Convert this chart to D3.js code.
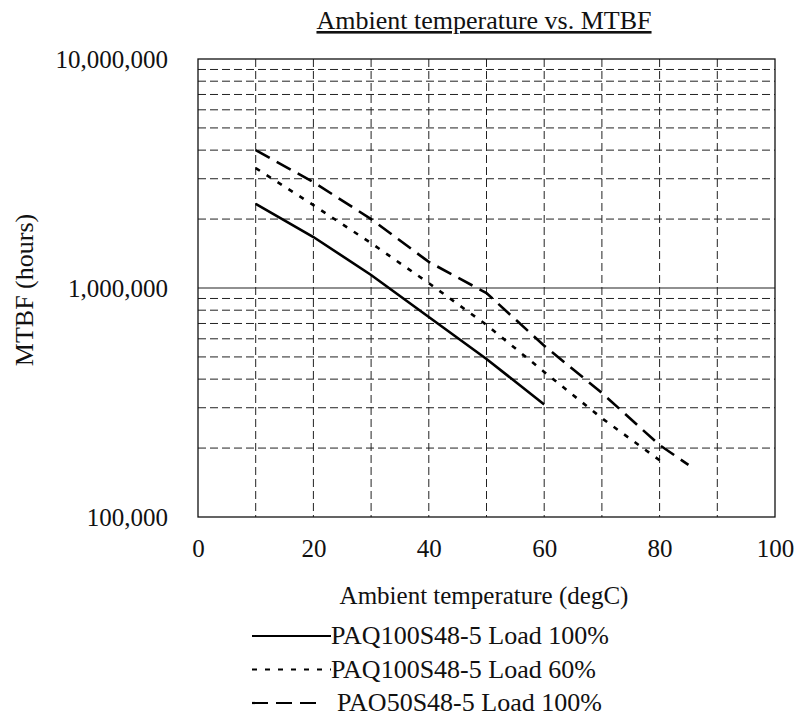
<!DOCTYPE html>
<html>
<head>
<meta charset="utf-8">
<script src="https://cdn.jsdelivr.net/npm/d3@7"></script>
<style>
  body { margin: 0; background: #fff; }
  text { font-family: "Liberation Serif", "Times New Roman", serif; fill: #111; }
</style>
</head>
<body>
<script>
// data
var title = 'Ambient temperature vs. MTBF';
var xTicks = [0, 20, 40, 60, 80, 100];
var yTicks = [100000, 1000000, 10000000];

var tempsA = [10, 20, 30, 40, 50, 60];
var mtbfA = [2330000, 1670000, 1140000, 747000, 490000, 310000];   // PAQ100S48-5 Load 100%

var tempsB = [10, 20, 30, 40, 50, 60, 70, 80];
var mtbfB = [3340000, 2300000, 1570000, 1050000, 690000, 430000, 270000, 177000]; // PAQ100S48-5 Load 60%

var tempsC = [10, 20, 30, 40, 50, 60, 70, 80, 85];
var mtbfC = [4000000, 2900000, 2000000, 1300000, 950000, 560000, 348000, 206000, 169000]; // PAO50S48-5 Load 100%

var seriesNames = ['PAQ100S48-5 Load 100%', 'PAQ100S48-5 Load 60%', 'PAO50S48-5 Load 100%'];

function draw() {
  var width = 809, height = 720;
  var left = 198, right = 775, top = 59, bottom = 517;

  var svg = d3.select('body').append('svg')
    .attr('width', width)
    .attr('height', height);

  var x = d3.scaleLinear().domain([0, 100]).range([left, right]);
  var y = d3.scaleLog().domain([100000, 10000000]).range([bottom, top]);

  // minor horizontal grid 2..9 per decade
  var minor = [];
  [100000, 1000000].forEach(function (d) {
    for (var k = 2; k <= 9; k++) minor.push(d * k);
  });

  var grid = svg.append('g');
  grid.selectAll('line.h')
    .data(minor)
    .enter().append('line')
      .attr('x1', left).attr('x2', right)
      .attr('y1', d => y(d)).attr('y2', d => y(d))
      .attr('stroke', '#222').attr('stroke-width', 1)
      .attr('stroke-dasharray', '8,4');

  grid.selectAll('line.v')
    .data(d3.range(10, 100, 10))
    .enter().append('line')
      .attr('y1', top).attr('y2', bottom)
      .attr('x1', d => x(d)).attr('x2', d => x(d))
      .attr('stroke', '#222').attr('stroke-width', 1)
      .attr('stroke-dasharray', '8,4');

  grid.append('line')
    .attr('x1', left).attr('x2', right)
    .attr('y1', y(1000000)).attr('y2', y(1000000))
    .attr('stroke', '#222').attr('stroke-width', 1.2);

  svg.append('rect')
    .attr('x', left).attr('y', top)
    .attr('width', right - left).attr('height', bottom - top)
    .attr('fill', 'none').attr('stroke', '#111').attr('stroke-width', 1.3);

  // axes (labels only, ticks hidden like the source)
  var fmt = d3.format(',');
  var yAxis = svg.append('g')
    .attr('transform', 'translate(' + left + ',0)')
    .call(d3.axisLeft(y).tickValues(yTicks).tickFormat(fmt).tickSize(0).tickPadding(30));
  yAxis.select('.domain').remove();
  yAxis.selectAll('text').style('font-size', '25px').attr('font-family', null);

  var xAxis = svg.append('g')
    .attr('transform', 'translate(0,' + bottom + ')')
    .call(d3.axisBottom(x).tickValues(xTicks).tickFormat(d3.format('d')).tickSize(0).tickPadding(22));
  xAxis.select('.domain').remove();
  xAxis.selectAll('text').style('font-size', '25px').attr('font-family', null);

  // series
  var line = d3.line().x(d => x(d[0])).y(d => y(d[1]));
  var series = [
    { t: tempsA, v: mtbfA, dash: null, w: 2.6 },
    { t: tempsB, v: mtbfB, dash: '5,8', w: 2.6 },
    { t: tempsC, v: mtbfC, dash: '16,8', w: 2.6 }
  ];
  svg.selectAll('path.series')
    .data(series)
    .enter().append('path')
      .attr('class', 'series')
      .attr('fill', 'none')
      .attr('stroke', '#000')
      .attr('stroke-width', d => d.w)
      .attr('stroke-dasharray', d => d.dash)
      .attr('d', d => line(d.t.map((t, i) => [t, d.v[i]])));

  // title
  svg.append('text')
    .attr('x', 484).attr('y', 29)
    .attr('text-anchor', 'middle')
    .style('font-size', '26px')
    .style('text-decoration', 'underline')
    .text(title);

  svg.append('text')
    .attr('transform', 'translate(33,' + 290 + ') rotate(-90)')
    .attr('text-anchor', 'middle')
    .style('font-size', '26px')
    .text('MTBF (hours)');

  svg.append('text')
    .attr('x', 484).attr('y', 604)
    .attr('text-anchor', 'middle')
    .style('font-size', '25px')
    .text('Ambient temperature (degC)');

  // legend
  var leg = svg.append('g');
  var rows = leg.selectAll('g')
    .data(series)
    .enter().append('g')
      .attr('transform', (d, i) => 'translate(0,' + (636 + i * 33.5) + ')');
  rows.append('line')
    .attr('x1', 252).attr('x2', (d, i) => i === 2 ? 322 : 331)
    .attr('y1', 0).attr('y2', 0)
    .attr('stroke', '#000')
    .attr('stroke-width', 2.2)
    .attr('stroke-dasharray', d => d.dash);
  rows.append('text')
    .attr('x', (d, i) => i === 2 ? 337 : 331).attr('y', 8)
    .style('font-size', '26px')
    .text((d, i) => seriesNames[i]);
}

draw();
</script>
</body>
</html>
